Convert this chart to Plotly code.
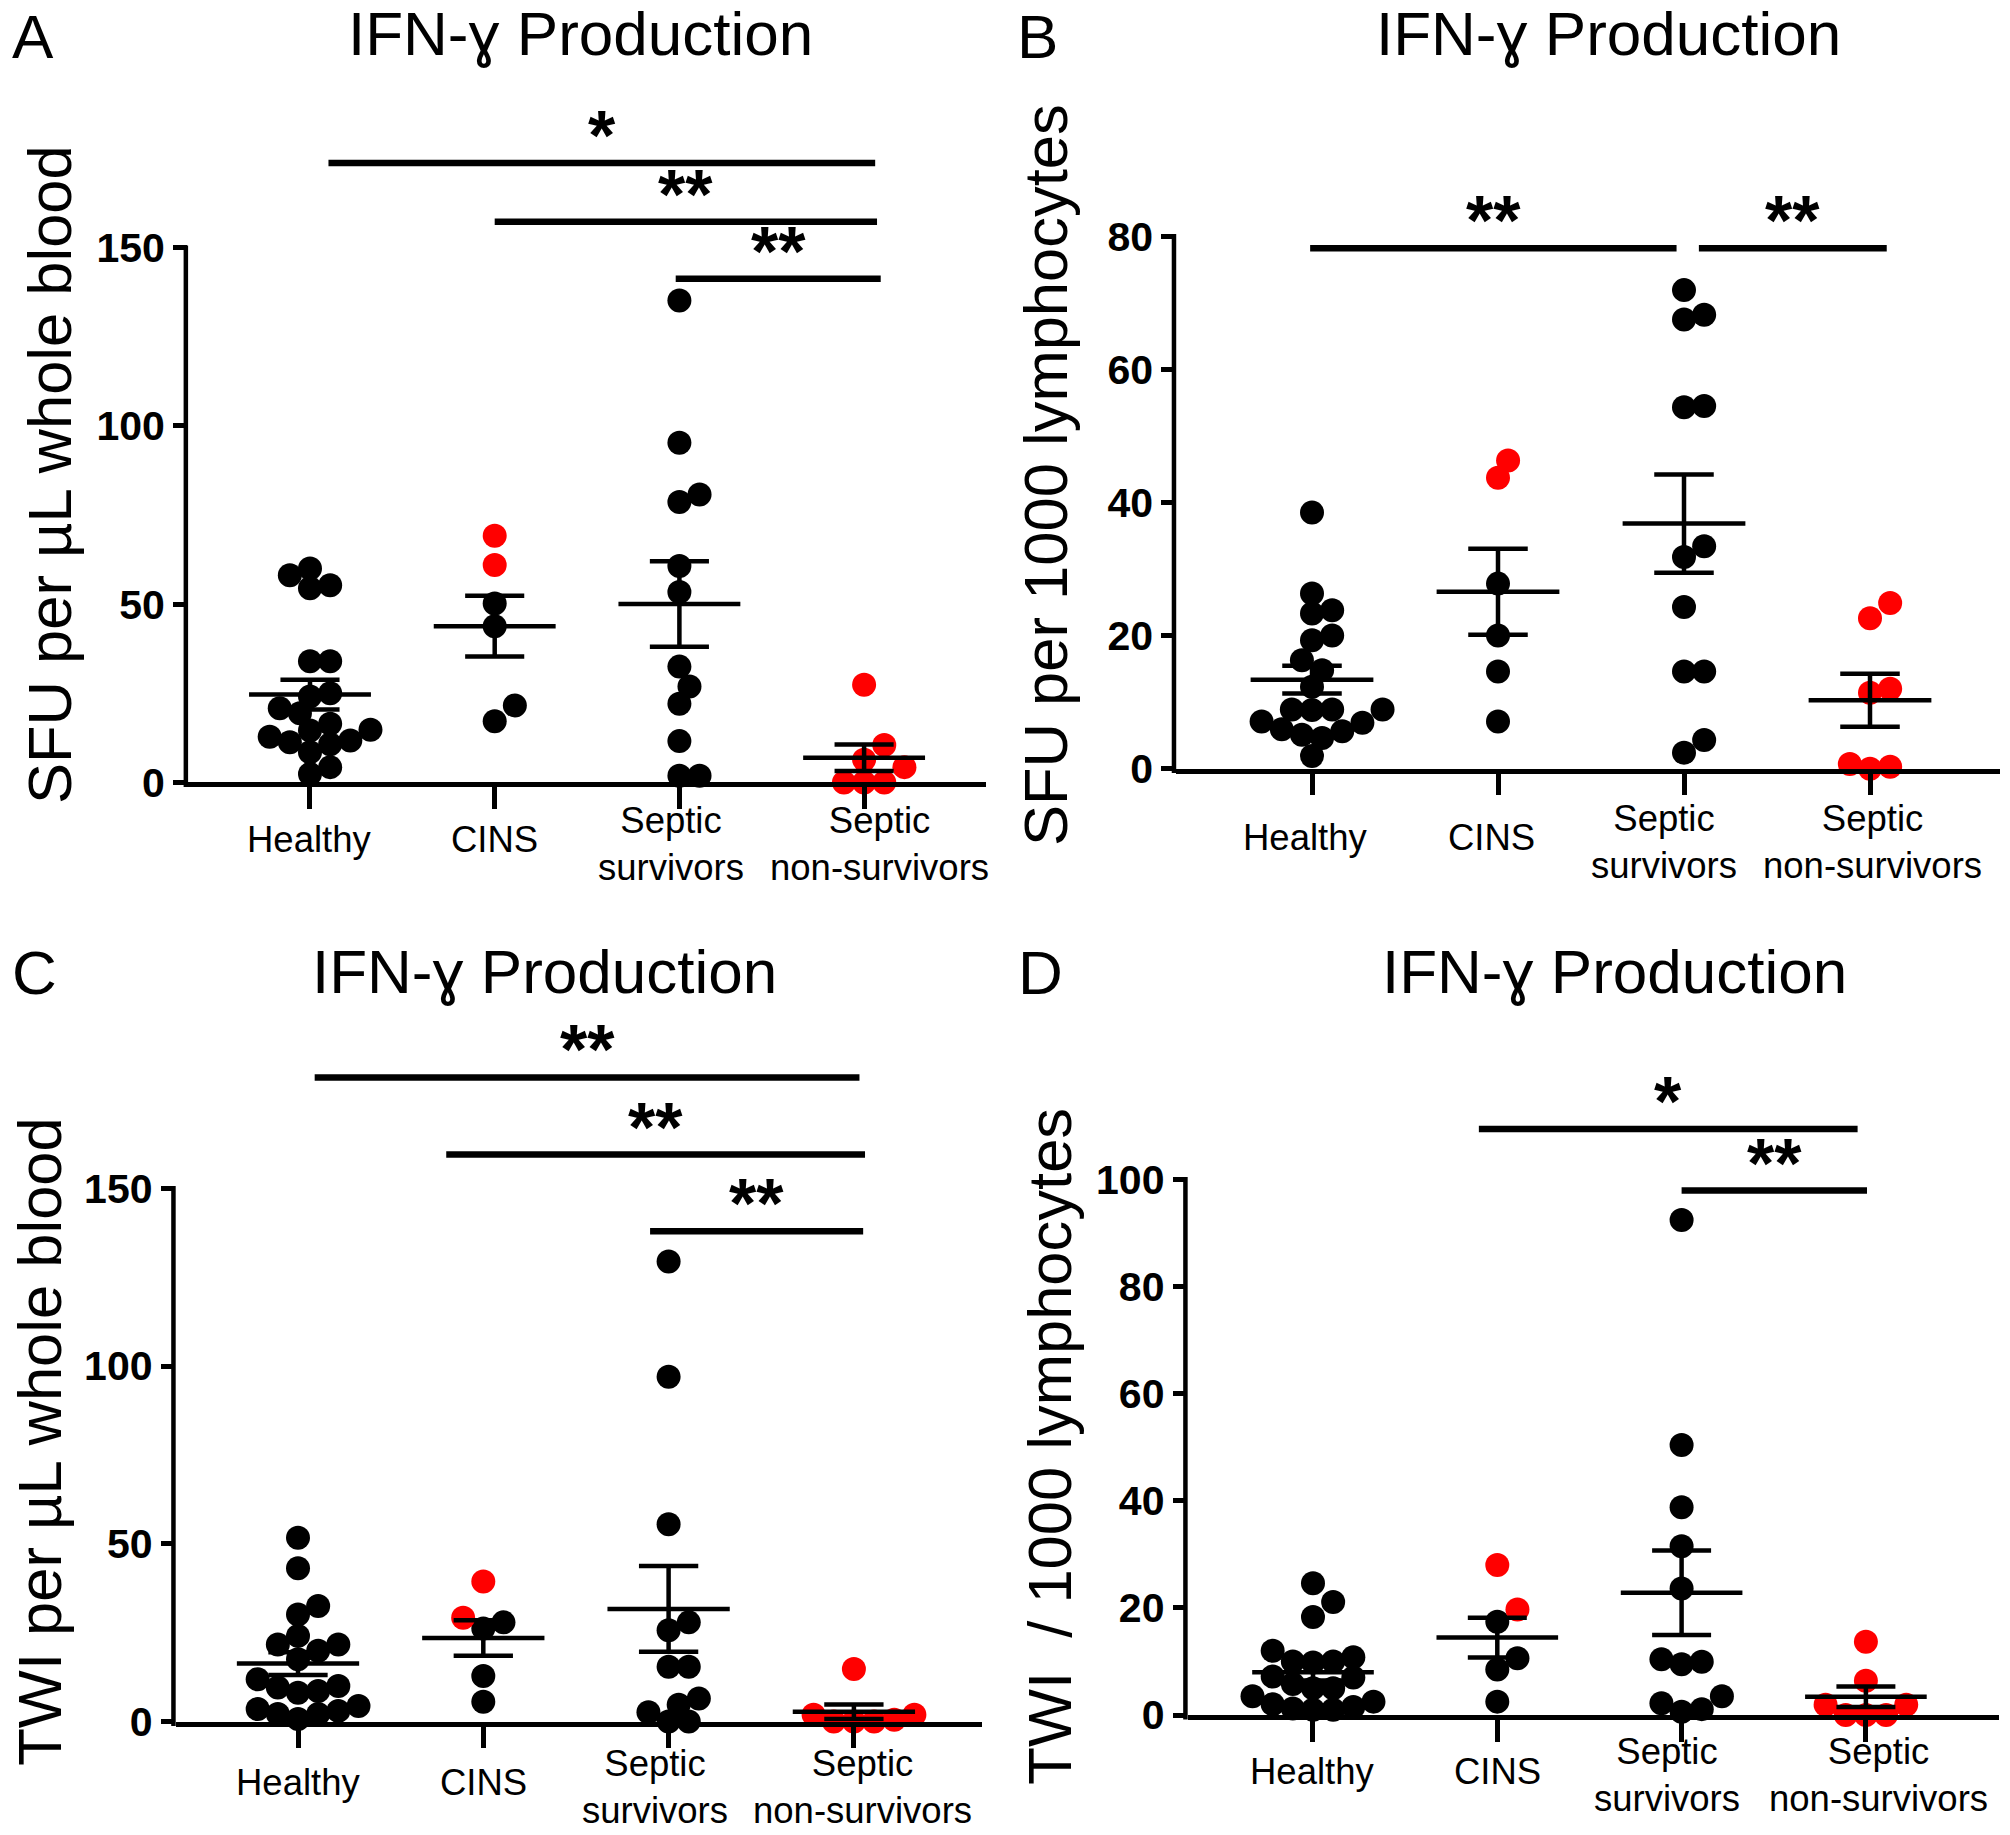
import math
import plotly.graph_objects as go

W, H = 2010, 1835
FONT = "Liberation Sans, Arial, Helvetica, sans-serif"

# ---------------- data ----------------
categories = ["Healthy", "CINS", "Septic<br>survivors", "Septic<br>non-survivors"]
panel_title = "IFN-ɣ Production"
panel_letters = ["A", "B", "C", "D"]

# Panel A: SFU per µL whole blood
A_healthy = [60.0, 55.3, 54.5, 58.1, 34.0, 34.0, 25.0, 24.1, 20.8, 19.4,
             14.6, 12.8, 16.5, 11.3, 10.7, 11.8, 14.8, 8.5, 4.3, 2.4]
A_cins_red = [69.2, 61.0]
A_cins_black = [50.2, 43.8, 21.6, 17.2]
A_survivors = [135.2, 95.3, 80.8, 78.7, 60.7, 53.4, 32.5, 26.9, 22.1, 11.6, 1.9, 1.9]
A_nonsurvivors = [27.4, 10.5, 6.4, 4.3, 0.0, 0.0, 0.0]
A_ticks = [0, 50, 100, 150]
A_ytitle = "SFU per µL whole blood"
A_brackets = [(0.10, 3.06, 173.8, "*"), (1.00, 3.07, 157.3, "**"), (1.98, 3.09, 141.3, "**")]

# Panel B: SFU per 1000 lymphocytes
B_healthy = [38.5, 26.3, 23.3, 23.8, 19.3, 20.0, 16.3, 14.8, 12.3, 8.9,
             8.9, 8.9, 8.8, 7.1, 5.1, 4.6, 5.6, 5.9, 6.9, 1.9]
B_cins_red = [43.7, 46.3]
B_cins_black = [27.8, 20.0, 14.6, 7.1]
B_survivors = [71.9, 67.5, 68.2, 54.5, 54.3, 33.4, 31.8, 24.3, 14.6, 14.6, 2.4, 4.3]
B_nonsurvivors = [24.9, 22.6, 12.0, 11.4, 0.0, 0.7, 0.3]
B_ticks = [0, 20, 40, 60, 80]
B_ytitle = "SFU per 1000 lymphocytes"
B_brackets = [(-0.01, 1.96, 78.2, "**"), (2.08, 3.09, 78.2, "**")]

# Panel C: TWI per µL whole blood
C_healthy = [51.7, 43.1, 32.5, 30.1, 24.1, 21.7, 21.7, 19.9, 17.5, 11.9,
             10.0, 9.6, 8.1, 8.6, 4.4, 2.1, 2.1, 3.5, 3.0, 0.7]
C_cins_red = [39.4, 29.2]
C_cins_black = [27.9, 26.2, 12.8, 5.6]
C_survivors = [129.4, 97.0, 55.5, 27.9, 25.7, 15.4, 15.4, 6.5, 4.7, 0.0, 0.0, 2.6]
C_nonsurvivors = [14.8, 1.9, 1.9, 0.5, 0.0, 0.0, 0.0]
C_ticks = [0, 50, 100, 150]
C_ytitle = "TWI per µL whole blood"
C_brackets = [(0.09, 3.03, 181.2, "**"), (0.80, 3.06, 159.5, "**"), (1.90, 3.05, 137.9, "**")]

# Panel D: TWI / 1000 lymphocytes
D_healthy = [24.6, 21.1, 18.3, 12.0, 10.8, 10.0, 10.0, 9.8, 7.2, 7.0,
             5.8, 5.0, 5.0, 3.5, 2.5, 2.0, 1.5, 1.2, 1.0, 1.0]
D_cins_red = [28.0, 19.7]
D_cins_black = [17.4, 10.6, 8.5, 2.5]
D_survivors = [92.4, 50.4, 38.8, 31.5, 23.6, 10.4, 9.95, 9.5, 3.5, 2.2, 1.1, 0.6]
D_nonsurvivors = [13.7, 6.4, 1.9, 1.9, 0.0, 0.0, 0.0]
D_ticks = [0, 20, 40, 60, 80, 100]
D_ytitle = "TWI\u00a0\u00a0/ 1000 lymphocytes"
D_brackets = [(0.90, 2.955, 109.4, "*"), (2.00, 3.006, 97.9, "**")]

RED = "#ff0000"
BLACK = "#000000"

DATA = {
    "A": dict(groups=[(A_healthy, []), (A_cins_black, A_cins_red), (A_survivors, []), ([], A_nonsurvivors)],
              ticks=A_ticks, ytitle=A_ytitle, brackets=A_brackets),
    "B": dict(groups=[(B_healthy, []), (B_cins_black, B_cins_red), (B_survivors, []), ([], B_nonsurvivors)],
              ticks=B_ticks, ytitle=B_ytitle, brackets=B_brackets),
    "C": dict(groups=[(C_healthy, []), (C_cins_black, C_cins_red), (C_survivors, []), ([], C_nonsurvivors)],
              ticks=C_ticks, ytitle=C_ytitle, brackets=C_brackets),
    "D": dict(groups=[(D_healthy, []), (D_cins_black, D_cins_red), (D_survivors, []), ([], D_nonsurvivors)],
              ticks=D_ticks, ytitle=D_ytitle, brackets=D_brackets),
}

# ---------------- layout geometry (pixels) ----------------
GEOM = {
    "A": dict(cx0=310, cstep=184.7, xlo=-0.66, xhi=3.66, zero=792.4, ppu=3.610, top=96,
              label1=850, label2=855, lshift=(0, 0, -8, 15),
              title=(580, 34), letter=(10, 37), ytitle=(50, 481)),
    "B": dict(cx0=1312, cstep=186.0, xlo=-0.73, xhi=3.70, zero=778.4, ppu=6.74, top=172,
              label1=848, label2=853, lshift=(-7, -7, -20, 2),
              title=(1608, 34), letter=(1015, 37), ytitle=(1046, 481)),
    "C": dict(cx0=298, cstep=185.3, xlo=-0.66, xhi=3.69, zero=1743.4, ppu=3.600, top=1022,
              label1=1805, label2=1810, lshift=(0, 0, -14, 9),
              title=(544, 984), letter=(10, 985), ytitle=(40, 1460)),
    "D": dict(cx0=1313, cstep=184.3, xlo=-0.68, xhi=3.72, zero=1736.8, ppu=5.425, top=1076,
              label1=1794, label2=1798, lshift=(0, 0, -15, 13),
              title=(1614, 984), letter=(1016, 985), ytitle=(1050, 1465)),
}
DOT = 24
LW_AXIS = 4.5
LW_MEAN = 4.5
LW_BAR = 6.5
STAR_SHIFT = 27


def mean_sem(v):
    n = len(v)
    m = sum(v) / n
    sd = math.sqrt(sum((x - m) ** 2 for x in v) / (n - 1))
    return m, sd / math.sqrt(n)


def beeswarm(vals, ppu, cstep, d=DOT):
    """Greedy swarm: returns horizontal offsets in category units."""
    order = sorted(range(len(vals)), key=lambda i: vals[i])
    placed = []
    offs = [0.0] * len(vals)
    h = d * 0.42
    mind = d * 0.8
    cands = [0.0]
    for k in range(1, 40):
        cands += [k * h, -k * h]
    for i in order:
        y = vals[i] * ppu
        chosen = cands[-1]
        for c in cands:
            if all((c - px) ** 2 + (y - py) ** 2 >= mind ** 2 for px, py in placed):
                chosen = c
                break
        placed.append((chosen, y))
        offs[i] = chosen / cstep
    return offs


fig = go.Figure()
layout = dict(
    width=W, height=H, autosize=False,
    margin=dict(l=0, r=0, t=0, b=0),
    paper_bgcolor="white", plot_bgcolor="rgba(0,0,0,0)",
    showlegend=False,
    font=dict(family=FONT, color="black"),
)
shapes = []
annotations = []

for pi, key in enumerate("ABCD"):
    g = GEOM[key]
    dd = DATA[key]
    sfx = "" if pi == 0 else str(pi + 1)
    xname, yname = "x" + sfx, "y" + sfx
    left_px = g["cx0"] + g["xlo"] * g["cstep"]
    right_px = g["cx0"] + g["xhi"] * g["cstep"]
    ytop_val = (g["zero"] - g["top"]) / g["ppu"]

    layout["xaxis" + sfx] = dict(
        domain=[left_px / W, right_px / W], range=[g["xlo"], g["xhi"]], anchor=yname,
        tickvals=[0, 1, 2, 3], showticklabels=False, ticks="outside", ticklen=22,
        tickwidth=LW_AXIS, tickcolor="black", showline=True, linewidth=LW_AXIS,
        linecolor="black", showgrid=False, zeroline=False, fixedrange=True)
    layout["yaxis" + sfx] = dict(
        domain=[1 - g["zero"] / H, 1 - g["top"] / H], range=[0, ytop_val], anchor=xname,
        tickvals=dd["ticks"], ticktext=[str(t) for t in dd["ticks"]], ticks="outside",
        ticklen=14, tickwidth=LW_AXIS, tickcolor="black", showline=False, showgrid=False,
        zeroline=False, fixedrange=True, ticklabelstandoff=0,
        tickfont=dict(family=FONT, size=41, color="black", weight="bold"))

    # y axis line (only up to the last tick)
    ytick_top_px = g["zero"] - dd["ticks"][-1] * g["ppu"]
    shapes.append(dict(type="line", xref="paper", yref="paper",
                       x0=(left_px - LW_AXIS / 2) / W, x1=(left_px - LW_AXIS / 2) / W,
                       y0=1 - (g["zero"] + LW_AXIS) / H, y1=1 - (ytick_top_px - LW_AXIS / 2) / H,
                       line=dict(color="black", width=LW_AXIS)))

    # points
    for ci, (blk, red) in enumerate(dd["groups"]):
        vals = list(blk) + list(red)
        cols = [BLACK] * len(blk) + [RED] * len(red)
        offs = beeswarm(vals, g["ppu"], g["cstep"])
        fig.add_trace(go.Scatter(
            x=[ci + o for o in offs], y=vals, mode="markers", xaxis=xname, yaxis=yname,
            marker=dict(size=DOT, color=cols, line=dict(width=0)),
            cliponaxis=False, hoverinfo="skip"))
    # mean +/- SEM
    for ci, (blk, red) in enumerate(dd["groups"]):
        vals = list(blk) + list(red)
        m, s = mean_sem(vals)
        hw, cw = 0.33, 0.16
        fig.add_trace(go.Scatter(
            x=[ci - hw, ci + hw, None, ci, ci, None, ci - cw, ci + cw, None, ci - cw, ci + cw],
            y=[m, m, None, m - s, m + s, None, m + s, m + s, None, m - s, m - s],
            mode="lines", xaxis=xname, yaxis=yname,
            line=dict(color="black", width=LW_MEAN), cliponaxis=False, hoverinfo="skip"))

    # significance brackets
    for (x0, x1, yb, lab) in dd["brackets"]:
        shapes.append(dict(type="line", xref=xname, yref=yname, x0=x0, x1=x1, y0=yb, y1=yb,
                           line=dict(color="black", width=LW_BAR)))
        annotations.append(dict(xref=xname, yref=yname, x=(x0 + x1) / 2, y=yb, text=lab,
                                showarrow=False, xanchor="center", yanchor="middle", yshift=STAR_SHIFT,
                                font=dict(family=FONT, size=70, color="black", weight="bold")))

    # category labels
    for ci, cat in enumerate(categories):
        ly = g["label2"] if "<br>" in cat else g["label1"]
        annotations.append(dict(xref=xname, yref="paper", x=ci, y=1 - ly / H, text=cat,
                                showarrow=False, xanchor="center", yanchor="middle",
                                xshift=g["lshift"][ci],
                                font=dict(family=FONT, size=36.5, color="black")))
    # title, letter, y title
    tx, ty = g["title"]
    annotations.append(dict(xref="paper", yref="paper", x=tx / W, y=1 - ty / H, text=panel_title,
                            showarrow=False, xanchor="center", yanchor="middle",
                            font=dict(family=FONT, size=62, color="black")))
    lx, ly = g["letter"]
    annotations.append(dict(xref="paper", yref="paper", x=lx / W, y=1 - ly / H, text=panel_letters[pi],
                            showarrow=False, xanchor="left", yanchor="middle",
                            font=dict(family=FONT, size=62, color="black")))
    yx, yy = g["ytitle"]
    annotations.append(dict(xref="paper", yref="paper", x=yx / W, y=1 - yy / H, text=dd["ytitle"],
                            showarrow=False, xanchor="center", yanchor="middle", textangle=-90,
                            font=dict(family=FONT, size=61.5, color="black")))

layout["shapes"] = shapes
layout["annotations"] = annotations
fig.update_layout(**layout)

fig.write_html("out.html", config={"displayModeBar": False},
               post_script="document.body.style.margin='0px';document.body.style.overflow='hidden';")
